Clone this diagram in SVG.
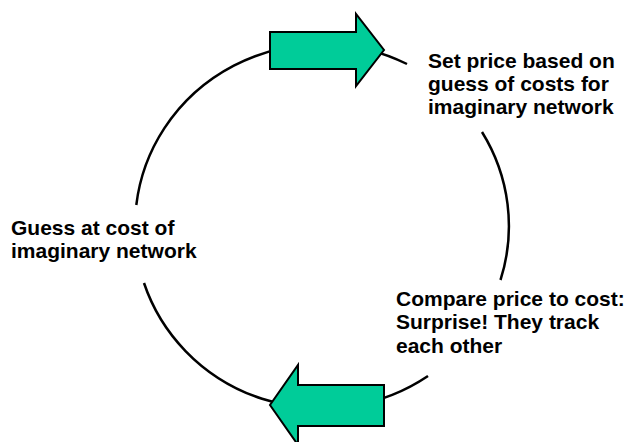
<svg xmlns="http://www.w3.org/2000/svg" width="629" height="442" viewBox="0 0 629 442">
  <style>
    .arc { fill: none; stroke: #000; stroke-width: 2.5; }
    .arrow { fill: #00CC99; stroke: #000; stroke-width: 2; stroke-linejoin: miter; }
    .label { font-family: "Liberation Sans", Arial, sans-serif; font-size: 21px; font-weight: bold; fill: #000; }
  </style>
  <rect width="629" height="442" fill="#fff"/>

  <!-- cycle ring, broken where labels sit -->
  <g id="connectors">
    <path class="arc" d="M136.3,205 A187,182 0 0,1 407,64"/>
    <path class="arc" d="M482,132 A187,182 0 0,1 500.5,280"/>
    <path class="arc" d="M428,376 A187,182 0 0,1 144,283"/>
  </g>

  <g id="arrow-top">
    <polygon class="arrow" points="270,32 356,32 356,14 384,50 356,86 356,69 270,69"/>
  </g>
  <g id="arrow-bottom">
    <polygon class="arrow" points="384,385 298,385 298,365 270,405 298,445 298,426 384,426"/>
  </g>

  <g id="step-set-price">
    <text class="label" x="428" y="67.5">Set price based on</text>
    <text class="label" x="428" y="91">guess of costs for</text>
    <text class="label" x="428" y="114">imaginary network</text>
  </g>
  <g id="step-compare">
    <text class="label" x="396" y="306">Compare price to cost:</text>
    <text class="label" x="396" y="329">Surprise! They track</text>
    <text class="label" x="396" y="353">each other</text>
  </g>
  <g id="step-guess">
    <text class="label" x="11" y="235">Guess at cost of</text>
    <text class="label" x="11" y="258">imaginary network</text>
  </g>
</svg>
